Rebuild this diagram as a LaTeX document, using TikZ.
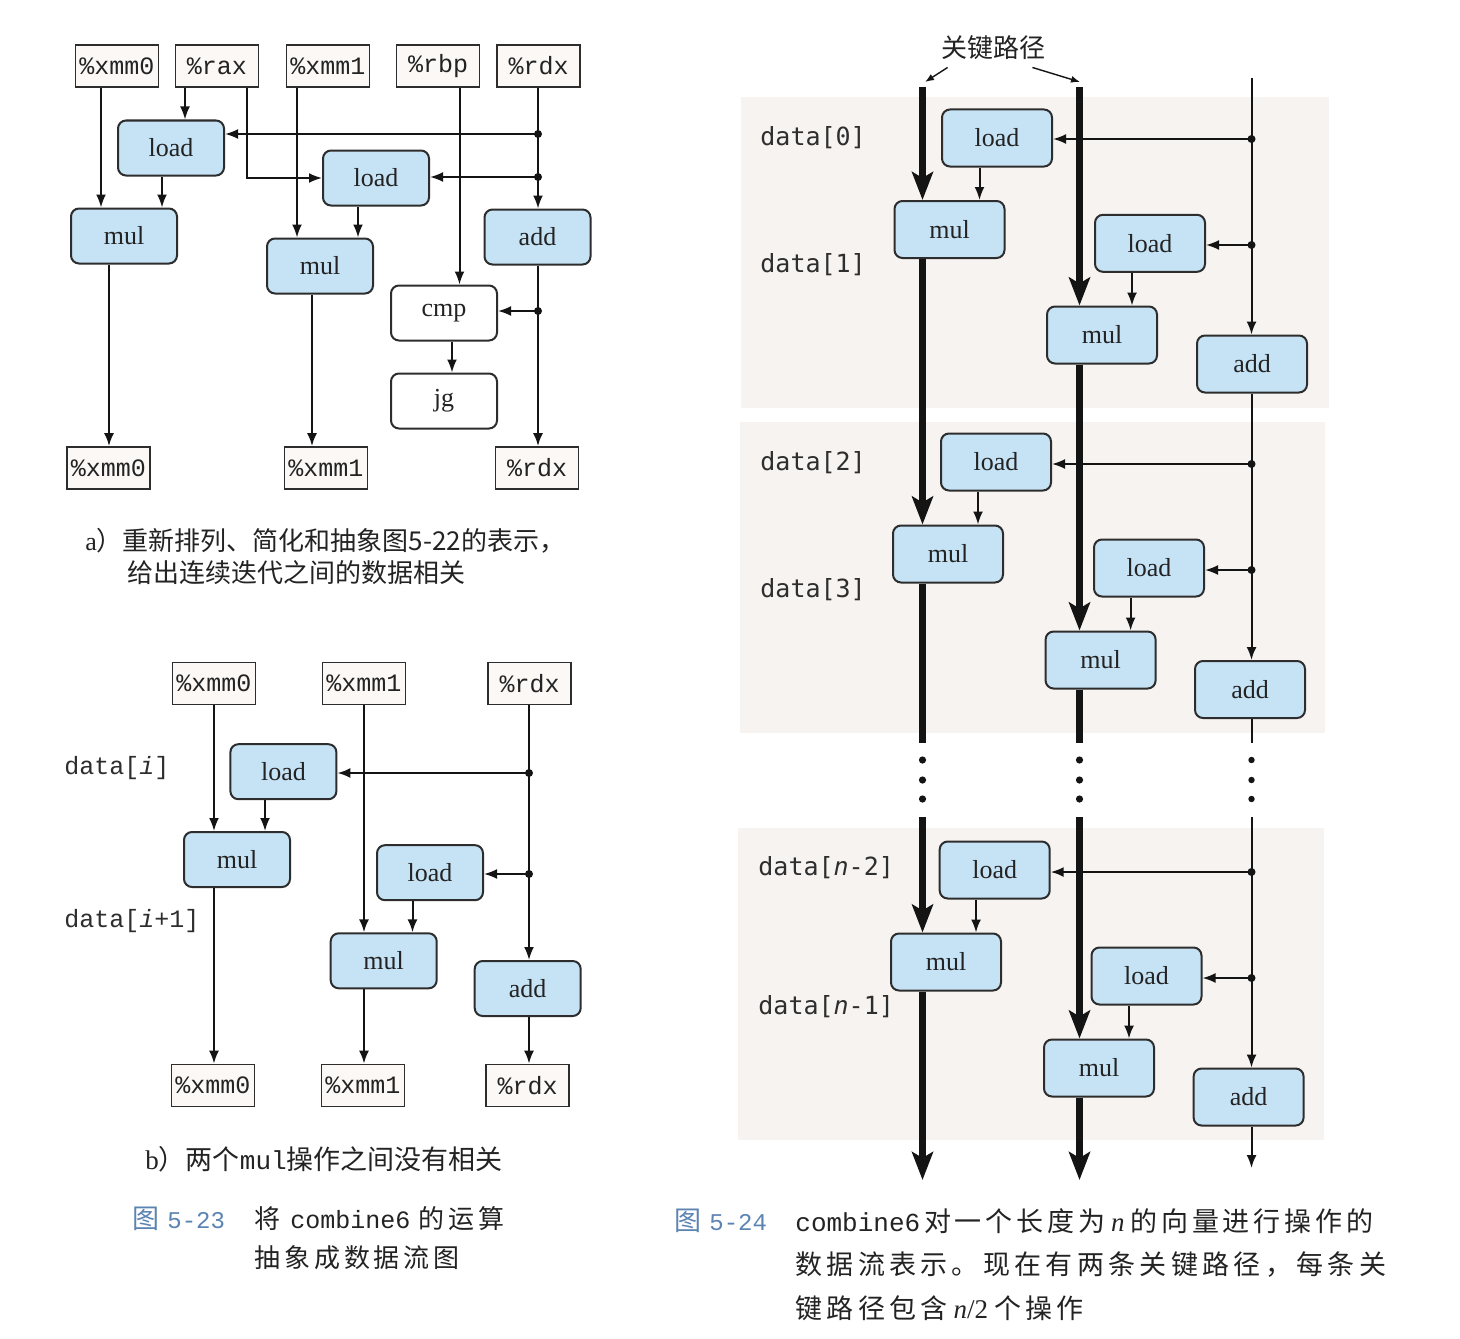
\documentclass[tikz,border=0pt]{standalone}
\usepackage{fontspec}
\usetikzlibrary{arrows.meta,calc}
\newfontfamily\cjk{Noto Sans CJK SC}
\newfontfamily\cjkA[LetterSpace=16]{Noto Sans CJK SC}
\newfontfamily\cjkB[LetterSpace=14]{Noto Sans CJK SC}
\newfontfamily\cjkC[LetterSpace=15]{Noto Sans CJK SC}
\newfontfamily\regfont{Liberation Mono}
\newfontfamily\opfont{Liberation Serif}
\newfontfamily\lblfont{DejaVu Sans Mono}
\definecolor{opfill}{RGB}{198,227,245}
\definecolor{regfill}{RGB}{251,248,246}
\definecolor{boxline}{RGB}{45,45,45}
\definecolor{linec}{RGB}{20,20,20}
\definecolor{panelbg}{RGB}{246,243,241}
\definecolor{capblue}{RGB}{92,132,178}
\definecolor{txt}{RGB}{35,35,35}
\begin{document}
\begin{tikzpicture}[x=0.5pt,y=-0.5pt,
  opbox/.style={draw=boxline, line width=1pt, fill=opfill, rounded corners=4pt,
    minimum width=53pt, minimum height=27.5pt, inner sep=0pt, text=txt,
    font=\opfont\fontsize{13}{15}\selectfont},
  wbox/.style={opbox, fill=white},
  ropbox/.style={opbox, minimum width=55pt, minimum height=28.5pt},
  regbox/.style={draw=boxline, line width=0.9pt, fill=regfill,
    minimum width=41.5pt, minimum height=21pt, inner sep=0pt, text=txt,
    font=\regfont\fontsize{12.5}{14}\selectfont},
  wire/.style={draw=linec, line width=1pt},
  conn/.style={wire, -{Latex[length=6.5pt,width=5pt]}},
  critline/.style={draw=linec, line width=3.2pt},
  critarr/.style={critline, -{Stealth[length=14pt,width=10.5pt,inset=3pt]}},
  lblarr/.style={draw=linec, line width=0.7pt, -{Latex[length=4.5pt,width=3.5pt]}},
  jdot/.style={fill=linec},
  lbl/.style={anchor=west, inner sep=0pt, text=black!82,
    font=\lblfont\fontsize{12.5}{14}\selectfont},
  lblb/.style={lbl, font=\regfont\fontsize{12.5}{14}\selectfont},
  captxt/.style={anchor=west, inner sep=0pt, text=txt}
]
\useasboundingbox (0,0) rectangle (1460,1338);
\fill[white] (0,0) rectangle (1460,1338);

% ---------- (a) rearranged data flow ----------
\node[regbox] (ra0) at (117,66) {\%xmm0};
\node[regbox] (ra1) at (217,66) {\%rax};
\node[regbox] (ra2) at (328,66) {\%xmm1};
\node[regbox] (ra3) at (438,66) {\%rbp};
\node[regbox] (ra4) at (538.5,66) {\%rdx};
\node[opbox] (la1) at (171,148) {load};
\node[opbox] (la2) at (376,178) {load};
\node[opbox] (ma1) at (124,236) {mul};
\node[opbox] (ma2) at (320,266) {mul};
\node[opbox] (aa) at (537.5,237) {add};
\node[wbox] (ca) at (444,313) {cmp};
\node[wbox] (ja) at (444,401) {jg};
\node[regbox] (oa0) at (108.5,468) {\%xmm0};
\node[regbox] (oa1) at (326,468) {\%xmm1};
\node[regbox] (oa2) at (537,468) {\%rdx};

\coordinate (ka101) at (101,0);
\coordinate (ka109) at (109,0);
\coordinate (ka162) at (162,0);
\coordinate (ka185) at (185,0);
\coordinate (ka247) at (247,0);
\coordinate (ka297) at (297,0);
\coordinate (ka312) at (312,0);
\coordinate (ka358) at (358,0);
\coordinate (ka452) at (452,0);
\coordinate (ka459) at (459.5,0);
\coordinate (ka538) at (538,0);
\coordinate (ja1) at (538,134);
\coordinate (ja2) at (538,177);
\coordinate (ja3) at (538,311);

\draw[conn] (ra0.south -| ka101) -- (ma1.north -| ka101);
\draw[conn] (ra1.south -| ka185) -- (la1.north -| ka185);
\draw[conn] (ra1.south -| ka247) |- (la2.west);
\draw[conn] (ra2.south -| ka297) -- (ma2.north -| ka297);
\draw[conn] (ra3.south -| ka459) -- (ca.north -| ka459);
\draw[conn] (ra4.south -| ka538) -- (aa.north -| ka538);
\draw[conn] (ja1) -- (la1.east |- ja1);
\draw[conn] (ja2) -- (la2.east |- ja2);
\draw[conn] (la1.south -| ka162) -- (ma1.north -| ka162);
\draw[conn] (la2.south -| ka358) -- (ma2.north -| ka358);
\draw[conn] (ma1.south -| ka109) -- (oa0.north -| ka109);
\draw[conn] (ma2.south -| ka312) -- (oa1.north -| ka312);
\draw[conn] (aa.south -| ka538) -- (oa2.north -| ka538);
\draw[conn] (ja3) -- (ca.east |- ja3);
\draw[conn] (ca.south -| ka452) -- (ja.north -| ka452);
\foreach \d in {ja1,ja2,ja3} \fill[jdot] (\d) circle[radius=2pt];

\node[captxt, font=\cjk\fontsize{13}{15}\selectfont] (capa1) at (85,541)
  {{\opfont a}）重新排列、简化和抽象图5-22的表示，};
\node[captxt, font=\cjk\fontsize{13}{15}\selectfont] (capa2) at (127,573)
  {给出连续迭代之间的数据相关};

% ---------- (b) two independent products ----------
\node[regbox] (rb0) at (214,683.5) {\%xmm0};
\node[regbox] (rb1) at (364,683.5) {\%xmm1};
\node[regbox] (rb2) at (529.5,683.5) {\%rdx};
\node[opbox] (lb1) at (283.4,771.7) {load};
\node[opbox] (mb1) at (237,859.5) {mul};
\node[opbox] (lb2) at (430,872.7) {load};
\node[opbox] (mb2) at (383.7,960.8) {mul};
\node[opbox] (ab) at (527.7,988.5) {add};
\node[regbox] (ob0) at (213,1085.5) {\%xmm0};
\node[regbox] (ob1) at (363,1085.5) {\%xmm1};
\node[regbox] (ob2) at (527.5,1085.5) {\%rdx};

\coordinate (kb214) at (214,0);
\coordinate (kb265) at (265,0);
\coordinate (kb364) at (364,0);
\coordinate (kb412) at (412.5,0);
\coordinate (kb529) at (529,0);
\coordinate (jb1) at (529,773);
\coordinate (jb2) at (529,874);

\draw[conn] (rb0.south -| kb214) -- (mb1.north -| kb214);
\draw[conn] (mb1.south -| kb214) -- (ob0.north -| kb214);
\draw[conn] (rb1.south -| kb364) -- (mb2.north -| kb364);
\draw[conn] (mb2.south -| kb364) -- (ob1.north -| kb364);
\draw[conn] (rb2.south -| kb529) -- (ab.north -| kb529);
\draw[conn] (ab.south -| kb529) -- (ob2.north -| kb529);
\draw[conn] (jb1) -- (lb1.east |- jb1);
\draw[conn] (jb2) -- (lb2.east |- jb2);
\draw[conn] (lb1.south -| kb265) -- (mb1.north -| kb265);
\draw[conn] (lb2.south -| kb412) -- (mb2.north -| kb412);
\foreach \d in {jb1,jb2} \fill[jdot] (\d) circle[radius=2pt];

\node[lblb] (di0) at (64,768) {data[{\itshape i}]};
\node[lblb] (di1) at (64,921) {data[{\itshape i}+1]};

\node[captxt, font=\cjk\fontsize{13.5}{16}\selectfont] (capb) at (145,1159)
  {{\opfont b}）两个{\regfont\fontsize{13}{15}\selectfont mul}操作之间没有相关};

\node[captxt, text=capblue, font=\cjk\fontsize{13.5}{16}\selectfont] (fig23) at (132,1219)
  {图\hspace{4pt}{\regfont\fontsize{12}{14}\selectfont 5-23}};
\node[captxt, font=\cjkC\fontsize{13}{15}\selectfont] (cap23a) at (254,1219)
  {将\hspace{5pt}{\regfont\fontsize{12.5}{14}\selectfont combine6}\hspace{4pt}的运算};
\node[captxt, font=\cjkC\fontsize{13}{15}\selectfont] (cap23b) at (254,1258)
  {抽象成数据流图};

% ---------- combine6 over a vector of length n ----------
\fill[panelbg] (741,97) rectangle (1329,408);
\fill[panelbg] (740,422) rectangle (1325,733);
\fill[panelbg] (738,828) rectangle (1324,1140);

\coordinate (kx1) at (922.5,0);
\coordinate (kx2) at (1079.5,0);
\coordinate (kx3) at (1251.5,0);

\node[ropbox] (rl0) at (997,138) {load};
\node[ropbox] (rm0) at (949.5,229.5) {mul};
\node[ropbox] (rl1) at (1150,243.3) {load};
\node[ropbox] (rm1) at (1102,335) {mul};
\node[ropbox] (ra1x) at (1252,364) {add};
\node[ropbox] (rl2) at (996,462) {load};
\node[ropbox] (rm2) at (948,554) {mul};
\node[ropbox] (rl3) at (1149,568) {load};
\node[ropbox] (rm3) at (1100.6,660) {mul};
\node[ropbox] (ra3x) at (1250,689.5) {add};
\node[ropbox] (rl4) at (994.7,870) {load};
\node[ropbox] (rm4) at (946,962) {mul};
\node[ropbox] (rl5) at (1146.5,976) {load};
\node[ropbox] (rm5) at (1099,1068) {mul};
\node[ropbox] (ra5x) at (1248.6,1097) {add};

\node[lbl] (dl0) at (760,138) {data[0]};
\node[lbl] (dl1) at (760,265) {data[1]};
\node[lbl] (dl2) at (760,463) {data[2]};
\node[lbl] (dl3) at (760,590) {data[3]};
\node[lbl] (dl4) at (758,868) {data[{\itshape n}-2]};
\node[lbl] (dl5) at (758,1007) {data[{\itshape n}-1]};

\coordinate (top1) at (922.5,87);
\coordinate (top2) at (1079.5,87);
\coordinate (top3) at (1251.5,78);
\coordinate (brk1a) at (922.5,743);
\coordinate (brk2a) at (1079.5,743);
\coordinate (brk3a) at (1251.5,743);
\coordinate (brk1b) at (922.5,817);
\coordinate (brk2b) at (1079.5,817);
\coordinate (brk3b) at (1251.5,817);
\coordinate (end1) at (922.5,1180);
\coordinate (end2) at (1079.5,1180);
\coordinate (end3) at (1251.5,1168);

% first critical path
\draw[critarr] (top1) -- (rm0.north -| kx1);
\draw[critarr] (rm0.south -| kx1) -- (rm2.north -| kx1);
\draw[critline] (rm2.south -| kx1) -- (brk1a);
\draw[critarr] (brk1b) -- (rm4.north -| kx1);
\draw[critarr] (rm4.south -| kx1) -- (end1);
% second critical path
\draw[critarr] (top2) -- (rm1.north -| kx2);
\draw[critarr] (rm1.south -| kx2) -- (rm3.north -| kx2);
\draw[critline] (rm3.south -| kx2) -- (brk2a);
\draw[critarr] (brk2b) -- (rm5.north -| kx2);
\draw[critarr] (rm5.south -| kx2) -- (end2);
% index update chain
\draw[conn] (top3) -- (ra1x.north -| kx3);
\draw[conn] (ra1x.south -| kx3) -- (ra3x.north -| kx3);
\draw[wire] (ra3x.south -| kx3) -- (brk3a);
\draw[conn] (brk3b) -- (ra5x.north -| kx3);
\draw[conn] (ra5x.south -| kx3) -- (end3);

\coordinate (jr0) at (1251.5,139);
\coordinate (jr1) at (1251.5,245);
\coordinate (jr2) at (1251.5,464);
\coordinate (jr3) at (1251.5,570);
\coordinate (jr4) at (1251.5,872);
\coordinate (jr5) at (1251.5,978);
\draw[conn] (jr0) -- (rl0.east |- jr0);
\draw[conn] (jr1) -- (rl1.east |- jr1);
\draw[conn] (jr2) -- (rl2.east |- jr2);
\draw[conn] (jr3) -- (rl3.east |- jr3);
\draw[conn] (jr4) -- (rl4.east |- jr4);
\draw[conn] (jr5) -- (rl5.east |- jr5);
\foreach \d in {jr0,jr1,jr2,jr3,jr4,jr5} \fill[jdot] (\d) circle[radius=2pt];

\draw[conn] ([xshift=15pt]rm0.north |- rl0.south) -- ([xshift=15pt]rm0.north);
\draw[conn] ([xshift=15pt]rm1.north |- rl1.south) -- ([xshift=15pt]rm1.north);
\draw[conn] ([xshift=15pt]rm2.north |- rl2.south) -- ([xshift=15pt]rm2.north);
\draw[conn] ([xshift=15pt]rm3.north |- rl3.south) -- ([xshift=15pt]rm3.north);
\draw[conn] ([xshift=15pt]rm4.north |- rl4.south) -- ([xshift=15pt]rm4.north);
\draw[conn] ([xshift=15pt]rm5.north |- rl5.south) -- ([xshift=15pt]rm5.north);

% elided iterations
\foreach \yy in {760,780,799} {
  \fill[linec] (922.5,\yy) circle[radius=1.8pt];
  \fill[linec] (1079.5,\yy) circle[radius=1.8pt];
  \fill[linec] (1251.5,\yy) circle[radius=1.6pt];
}

% critical path callout
\node[inner sep=0pt, text=txt, font=\cjk\fontsize{13}{15}\selectfont] (crit) at (993,48) {关键路径};
\coordinate (cp1) at (925,82);
\coordinate (cp2) at (1080,82);
\draw[lblarr] ($(crit.south west)+(7,7)$) -- (cp1);
\draw[lblarr] ($(crit.south east)+(-13,7)$) -- (cp2);

% caption of the right figure
\node[captxt, text=capblue, font=\cjk\fontsize{13.5}{16}\selectfont] (fig24) at (674,1221)
  {图\hspace{4pt}{\regfont\fontsize{12}{14}\selectfont 5-24}};
\node[captxt, font=\cjkB\fontsize{13.5}{16}\selectfont] (cap24a) at (795,1221)
  {{\regfont\fontsize{13}{15}\selectfont combine6}\hspace{2pt}对一个长度为\hspace{3pt}{\opfont\itshape n}\hspace{3pt}的向量进行操作的};
\node[captxt, font=\cjkA\fontsize{13.5}{16}\selectfont] (cap24b) at (795,1265)
  {数据流表示。现在有两条关键路径，每条关};
\node[captxt, font=\cjkA\fontsize{13.5}{16}\selectfont] (cap24c) at (795,1308)
  {键路径包含\hspace{3pt}{\opfont\itshape n}{\opfont /2}\hspace{3pt}个操作};
\end{tikzpicture}
\end{document}
